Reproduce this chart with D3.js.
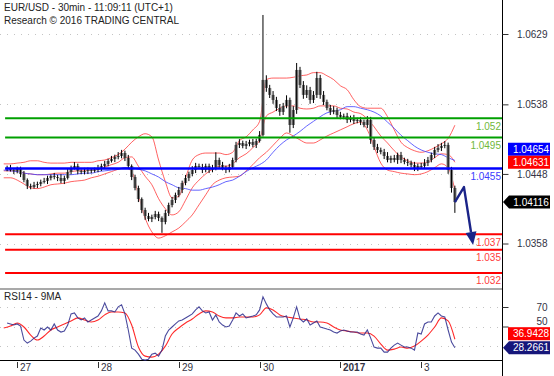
<!DOCTYPE html>
<html>
<head>
<meta charset="utf-8">
<script src="https://cdn.jsdelivr.net/npm/d3@7"></script>
<style>
body { margin: 0; background: #fff; }
svg { display: block; font-family: "Liberation Sans", Arial, sans-serif; }
</style>
</head>
<body>
<svg id="chart" width="554" height="376"></svg>
<script>
// EUR/USD 30min, hourly closes (hours from 27 Dec 00:00)
var firstOpen = 1.04544;
var closes = [
	1.04557, 1.04531, 1.04518, 1.04544, 1.04479, 1.04402, 1.04324, 1.04311, 1.04337, 1.04350,
	1.04376, 1.04389, 1.04427, 1.04453, 1.04440, 1.04427, 1.04389, 1.04427, 1.04505, 1.04557,
	1.04583, 1.04518, 1.04505, 1.04518, 1.04531, 1.04518, 1.04531, 1.04557, 1.04583, 1.04609,
	1.04647, 1.04673, 1.04699, 1.04712, 1.04751, 1.04686, 1.04583, 1.04440, 1.04298, 1.04156,
	1.04013, 1.03936, 1.03897, 1.03923, 1.03962, 1.03910, 1.03858, 1.03975, 1.04078, 1.04143,
	1.04208, 1.04272, 1.04363, 1.04427, 1.04479, 1.04531, 1.04583, 1.04570, 1.04531, 1.04583,
	1.04531, 1.04557, 1.04660, 1.04596, 1.04557, 1.04531, 1.04570, 1.04660, 1.04855, 1.04880,
	1.04842, 1.04867, 1.04893, 1.04855, 1.04906, 1.04984, 1.05696, 1.05592, 1.05502, 1.05437,
	1.05333, 1.05282, 1.05359, 1.05437, 1.05113, 1.05307, 1.05825, 1.05631, 1.05502, 1.05566,
	1.05437, 1.05502, 1.05721, 1.05502, 1.05411, 1.05333, 1.05282, 1.05307, 1.05243, 1.05217,
	1.05230, 1.05178, 1.05204, 1.05165, 1.05178, 1.05152, 1.05113, 1.05178, 1.04919, 1.04829,
	1.04790, 1.04764, 1.04712, 1.04660, 1.04686, 1.04660, 1.04725, 1.04660, 1.04635, 1.04622,
	1.04596, 1.04557, 1.04583, 1.04583, 1.04622, 1.04660, 1.04725, 1.04790, 1.04816, 1.04842,
	1.04855, 1.04531, 1.04298, 1.04116
];
// wicks in pips above / below the body
var wickUp = [
	3,4,2,3,3,4,2,3,4,3, 3,4,3,2,4,3,5,3,4,3, 5,3,2,4,3,2,3,4,3,4, 3,4,3,5,4,3,4,2,3,3,
	2,3,4,3,4,3,2,4,3,4, 3,4,3,4,3,5,4,3,4,3, 3,4,10,3,4,3,4,3,4,5, 3,4,3,4,3,5,84,6,4,5,
	4,5,4,6,3,5,9,4,5,6, 4,5,8,4,5,3,4,5,3,4, 3,4,3,4,3,4,3,5,4,3, 4,3,4,5,3,4,3,4,3,4,
	3,4,3,4,5,4,3,4,5,4, 5,3,4,3
];
var wickDn = [
	3,2,4,3,4,3,4,3,2,4, 3,2,4,3,3,4,3,4,2,3, 2,4,3,3,4,3,2,3,4,3, 3,2,4,3,3,4,3,4,3,4,
	4,5,3,4,3,4,14,3,4,3, 4,3,4,3,4,3,4,3,4,3, 4,3,3,4,3,4,3,2,3,4, 3,4,3,3,4,2,2,5,4,5,
	4,5,4,3,10,4,5,4,5,4, 5,4,4,5,4,3,4,3,4,3, 3,4,3,4,3,4,3,4,5,4, 4,3,4,3,4,3,5,4,3,4,
	3,4,4,3,3,4,3,4,3,4, 3,5,6,14
];

// Bollinger bands and moving average, every 2 hours
var bandUpper = [
	1.0461, 1.0461, 1.0462, 1.0463, 1.0465, 1.0465, 1.0463, 1.0462, 1.0462, 1.0462,
	1.0463, 1.0463, 1.0463, 1.0463, 1.0465, 1.0466, 1.0469, 1.0473, 1.0480, 1.0489,
	1.0496, 1.0500, 1.0496, 1.0466, 1.0438, 1.0417, 1.0419, 1.0443, 1.0466, 1.0473,
	1.0475, 1.0475, 1.0475, 1.0473, 1.0476, 1.0491, 1.0496, 1.0505, 1.0516, 1.0570,
	1.0572, 1.0572, 1.0572, 1.0573, 1.0575, 1.0576, 1.0579, 1.0579, 1.0575, 1.0570,
	1.0562, 1.0557, 1.0544, 1.0535, 1.0533, 1.0533, 1.0533, 1.0522, 1.0505, 1.0489,
	1.0482, 1.0478, 1.0476, 1.0478, 1.0482, 1.0487, 1.0494, 1.0511
];
var bandMiddle = [
	1.0452, 1.0452, 1.0452, 1.0449, 1.0448, 1.0447, 1.0447, 1.0448, 1.0449, 1.0449,
	1.0451, 1.0452, 1.0452, 1.0453, 1.0454, 1.0457, 1.0460, 1.0463, 1.0469, 1.0470,
	1.0458, 1.0445, 1.0434, 1.0416, 1.0403, 1.0395, 1.0399, 1.0414, 1.0430, 1.0440,
	1.0448, 1.0454, 1.0458, 1.0458, 1.0461, 1.0469, 1.0474, 1.0482, 1.0492, 1.0523,
	1.0528, 1.0533, 1.0536, 1.0536, 1.0533, 1.0532, 1.0533, 1.0536, 1.0536, 1.0536,
	1.0533, 1.0532, 1.0528, 1.0526, 1.0519, 1.0509, 1.0497, 1.0488, 1.0478, 1.0470,
	1.0465, 1.0462, 1.0462, 1.0463, 1.0469, 1.0474, 1.0473, 1.04631
];
var bandLower = [
	1.0443, 1.0443, 1.0440, 1.0435, 1.0430, 1.0429, 1.0431, 1.0434, 1.0435, 1.0436,
	1.0438, 1.0439, 1.0440, 1.0443, 1.0445, 1.0448, 1.0451, 1.0454, 1.0456, 1.0451,
	1.0421, 1.0391, 1.0373, 1.0365, 1.0368, 1.0373, 1.0378, 1.0386, 1.0395, 1.0408,
	1.0421, 1.0434, 1.0440, 1.0443, 1.0444, 1.0445, 1.0452, 1.0460, 1.0469, 1.0476,
	1.0485, 1.0494, 1.0501, 1.0497, 1.0492, 1.0488, 1.0488, 1.0492, 1.0497, 1.0501,
	1.0505, 1.0509, 1.0513, 1.0515, 1.0505, 1.0483, 1.0462, 1.0453, 1.0451, 1.0449,
	1.0448, 1.0447, 1.0448, 1.0451, 1.0456, 1.0461, 1.0456, 1.0427
];
var maBlue = [
	1.0453, 1.0452, 1.0451, 1.0449, 1.0448, 1.0447, 1.0447, 1.0447, 1.0447, 1.0447,
	1.0447, 1.0448, 1.0449, 1.0449, 1.0451, 1.0452, 1.0453, 1.0454, 1.0456, 1.0456,
	1.0454, 1.0452, 1.0448, 1.0444, 1.0438, 1.0434, 1.0430, 1.0429, 1.0427, 1.0427,
	1.0429, 1.0431, 1.0434, 1.0438, 1.0440, 1.0445, 1.0451, 1.0456, 1.0460, 1.0466,
	1.0476, 1.0485, 1.0492, 1.0497, 1.0503, 1.0510, 1.0516, 1.0522, 1.0527, 1.0529,
	1.0531, 1.0535, 1.0535, 1.0533, 1.0531, 1.0528, 1.0523, 1.0515, 1.0507, 1.0498,
	1.0491, 1.0484, 1.0479, 1.0476, 1.0474, 1.0473, 1.0469, 1.04654
];

// RSI14 (hourly) and its 9MA (every 2 hours)
var rsi = [
	53.6, 52.6, 51.5, 52.6, 50.5, 36.1, 33.0, 35.0, 38.1, 40.2,
	48.5, 46.4, 49.5, 46.4, 52.6, 46.4, 44.3, 45.3, 51.5, 62.9,
	63.9, 58.8, 56.7, 58.8, 54.6, 56.7, 58.8, 60.8, 66.0, 74.2,
	66.0, 66.0, 64.9, 70.1, 72.2, 62.9, 46.4, 27.8, 25.8, 21.6,
	16.5, 15.5, 16.5, 21.6, 22.7, 19.6, 25.8, 40.2, 46.4, 49.5,
	52.6, 55.7, 56.7, 58.8, 60.8, 62.9, 67.0, 70.1, 66.0, 63.9,
	64.9, 56.7, 61.9, 54.6, 51.5, 49.5, 50.5, 56.7, 63.9, 60.8,
	62.9, 58.8, 59.8, 60.8, 61.9, 67.0, 80.4, 73.2, 67.0, 62.9,
	59.8, 59.8, 59.8, 60.8, 49.5, 58.8, 70.1, 57.7, 54.6, 57.7,
	51.5, 53.6, 55.7, 49.5, 48.5, 47.4, 46.4, 44.3, 43.3, 45.3,
	46.4, 45.3, 44.3, 44.3, 44.3, 42.3, 41.2, 46.4, 38.1, 28.9,
	27.8, 27.8, 23.7, 23.7, 27.8, 30.9, 33.0, 30.9, 28.9, 28.9,
	27.8, 25.8, 43.3, 42.3, 52.6, 54.6, 54.6, 60.8, 63.9, 60.8,
	59.8, 46.4, 34.0, 28.2661
];
var rsiMA = [
	48.5, 50.5, 53.6, 49.5, 41.2, 36.1, 40.2, 46.4, 49.5, 52.6,
	55.7, 58.8, 56.7, 54.6, 56.7, 61.9, 64.9, 64.9, 63.9, 51.5,
	28.9, 19.6, 18.6, 21.6, 29.9, 42.3, 48.5, 53.6, 57.7, 62.9,
	66.0, 64.9, 60.8, 58.8, 58.8, 59.8, 59.8, 59.8, 61.9, 69.1,
	67.0, 61.9, 59.8, 58.8, 57.7, 56.7, 54.6, 54.6, 53.6, 49.5,
	46.4, 45.3, 44.3, 43.3, 43.3, 40.2, 32.0, 25.8, 26.8, 28.9,
	27.8, 29.9, 35.0, 41.2, 49.5, 58.8, 55.7, 36.9428
];

var barHours = d3.range(-3, 131);
var bandHours = d3.range(-4, 131, 2);

var priceTicks = [1.0629, 1.0538, 1.0448, 1.0358];
var rsiTicks = [70, 50];
var rsiGrid = [70, 50, 30];
var dayTicks = [0, 24, 48, 72, 96, 120];
var dayLabels = ["27", "28", "29", "30", "2017", "3"];

var levelValues = [1.052, 1.0495, 1.0455, 1.037, 1.035, 1.032];
var levelLabels = ["1.052", "1.0495", "1.0455", "1.037", "1.035", "1.032"];
var levelKinds = ["res", "res", "pivot", "sup", "sup", "sup"];

// forecast arrow (hour, price)
var arrowHours = [130, 132.7, 135.4];
var arrowPrices = [1.04116, 1.0431, 1.0356];

var pip = 0.0001;
var plotRight = 502;

var svg = d3.select("#chart");
var x = d3.scaleLinear().domain([0, 120]).range([17.2, 421.2]);
var y = d3.scaleLinear().domain([1.0629, 1.0358]).range([34, 243.5]);
var yr = d3.scaleLinear().domain([70, 30]).range([307, 346]);

drawFrame();
drawPricePanel();
drawRsiPanel();
drawLabels();

function drawFrame() {
	svg.append("rect").attr("width", 554).attr("height", 376).attr("fill", "#fff");

	// dotted grid
	svg.selectAll("line.pgrid").data(priceTicks).enter().append("line")
		.attr("x1", 0).attr("x2", plotRight - 4)
		.attr("y1", function(d) { return Math.round(y(d)) + 0.5; })
		.attr("y2", function(d) { return Math.round(y(d)) + 0.5; })
		.attr("stroke", "#c4c4c4").attr("stroke-dasharray", "1,6");
	svg.selectAll("line.rgrid").data(rsiGrid).enter().append("line")
		.attr("x1", 0).attr("x2", plotRight - 4)
		.attr("y1", function(d) { return Math.round(yr(d)) + 0.5; })
		.attr("y2", function(d) { return Math.round(yr(d)) + 0.5; })
		.attr("stroke", "#c4c4c4").attr("stroke-dasharray", "1,6");

	// panel separator, time axis, value axis
	svg.append("line").attr("x1", 0).attr("x2", plotRight).attr("y1", 289).attr("y2", 289)
		.attr("stroke", "#8c8c8c").attr("stroke-width", 1.5);
	svg.append("line").attr("x1", 0).attr("x2", plotRight).attr("y1", 360.5).attr("y2", 360.5)
		.attr("stroke", "#000");
	svg.append("line").attr("x1", plotRight + 0.5).attr("x2", plotRight + 0.5).attr("y1", 0).attr("y2", 376)
		.attr("stroke", "#000");

	var pAxis = svg.append("g").attr("transform", "translate(" + (plotRight + 0.5) + ",0)")
		.call(d3.axisRight(y).tickValues(priceTicks).tickSize(6).tickFormat(d3.format(".4f")));
	var rAxis = svg.append("g").attr("transform", "translate(" + (plotRight + 0.5) + ",0)")
		.call(d3.axisRight(yr).tickValues(rsiTicks).tickSize(6).tickFormat(d3.format("d")));
	[pAxis, rAxis].forEach(function(a) {
		a.select(".domain").remove();
		a.selectAll(".tick line").attr("stroke", "#333");
		a.selectAll(".tick text").attr("x", 45).attr("text-anchor", "end")
			.attr("fill", "#333344").style("font-size", "10px")
			.style("font-family", "'Liberation Sans', Arial, sans-serif");
	});
	// "50" sits partly under the RSI value box, nudge it up like the original
	rAxis.selectAll(".tick text").attr("dy", function(d) { return d == 50 ? "-0.2em" : "0.32em"; });

	// day ticks
	var days = svg.selectAll("g.day").data(dayTicks).enter().append("g")
		.attr("transform", function(d) { return "translate(" + (Math.round(x(d)) + 0.5) + ",0)"; });
	days.append("line").attr("y1", 362).attr("y2", 368).attr("stroke", "#333");
	days.append("text").attr("x", 2.5).attr("y", 371)
		.attr("font-size", 10).attr("fill", "#333344")
		.attr("font-weight", function(d, i) { return dayLabels[i] == "2017" ? "bold" : "normal"; })
		.text(function(d, i) { return dayLabels[i]; });
}

function drawPricePanel() {
	var g = svg.append("g");

	var bars = closes.map(function(c, i) {
		var o = i ? closes[i - 1] : firstOpen;
		return {
			h: barHours[i], o: o, c: c,
			hi: Math.max(o, c) + wickUp[i] * pip,
			lo: Math.min(o, c) - wickDn[i] * pip
		};
	});

	var bandLine = function(vals) {
		return d3.line()
			.x(function(d, i) { return x(bandHours[i]); })
			.y(function(d) { return y(d); })
			.curve(d3.curveMonotoneX)(vals);
	};

	// bands behind candles
	[bandUpper, bandLower, bandMiddle].forEach(function(vals) {
		g.append("path").attr("d", bandLine(vals)).attr("fill", "none")
			.attr("stroke", "#ff2020").attr("stroke-opacity", 0.7).attr("stroke-width", 1);
	});
	g.append("path").attr("d", bandLine(maBlue)).attr("fill", "none")
		.attr("stroke", "#4a4aff").attr("stroke-opacity", 0.85).attr("stroke-width", 1);

	g.selectAll("rect.body").data(bars).enter().append("rect")
		.attr("x", function(d) { return x(d.h) - 1.6; })
		.attr("width", 3.2)
		.attr("y", function(d) { return y(Math.max(d.o, d.c)); })
		.attr("height", function(d) { return Math.max(1, Math.abs(y(d.o) - y(d.c))); })
		.attr("fill", "#7d7d7d");
	g.selectAll("line.wick").data(bars).enter().append("line")
		.attr("x1", function(d) { return x(d.h); })
		.attr("x2", function(d) { return x(d.h); })
		.attr("y1", function(d) { return y(d.hi); })
		.attr("y2", function(d) { return y(d.lo); })
		.attr("stroke", "#000").attr("stroke-width", 1);

	// support / resistance
	var levelColor = { res: "#00a000", pivot: "#0000ff", sup: "#ff0000" };
	var textColor = { res: "#70b83c", pivot: "#3c3cff", sup: "#ff3c3c" };
	var x0 = x(barHours[0]) - 2;
	levelValues.forEach(function(v, i) {
		g.append("line").attr("x1", x0).attr("x2", plotRight)
			.attr("y1", y(v)).attr("y2", y(v))
			.attr("stroke", levelColor[levelKinds[i]])
			.attr("stroke-width", levelKinds[i] == "pivot" ? 2.5 : 2);
		g.append("text").attr("x", plotRight - 1).attr("y", y(v) + 11.5)
			.attr("text-anchor", "end").attr("font-size", 10)
			.attr("fill", textColor[levelKinds[i]])
			.text(levelLabels[i]);
	});

	// forecast arrow
	var pts = arrowHours.map(function(h, i) { return [x(h), y(arrowPrices[i])]; });
	var n = pts.length;
	var tip = pts[n - 1], prev = pts[n - 2];
	var ang = Math.atan2(tip[1] - prev[1], tip[0] - prev[0]);
	var len = 13, half = 5.5;
	var bx = tip[0] - len * Math.cos(ang), by = tip[1] - len * Math.sin(ang);
	var shaft = pts.slice(0, n - 1).concat([[bx, by]]);
	g.append("path").attr("d", d3.line()(shaft)).attr("fill", "none")
		.attr("stroke", "#1a2388").attr("stroke-width", 2.4).attr("stroke-linejoin", "round");
	g.append("polygon")
		.attr("points", [
			tip,
			[bx + half * Math.sin(ang), by - half * Math.cos(ang)],
			[bx - half * Math.sin(ang), by + half * Math.cos(ang)]
		].map(function(p) { return p.join(","); }).join(" "))
		.attr("fill", "#1a2388");
}

function drawRsiPanel() {
	var g = svg.append("g");
	g.append("path")
		.attr("d", d3.line()
			.x(function(d, i) { return x(bandHours[i]); })
			.y(function(d) { return yr(d); })
			.curve(d3.curveMonotoneX)(rsiMA))
		.attr("fill", "none").attr("stroke", "#ff2a2a").attr("stroke-width", 1.1);
	g.append("path")
		.attr("d", d3.line()
			.x(function(d, i) { return x(barHours[i]); })
			.y(function(d) { return yr(d); })(rsi))
		.attr("fill", "none").attr("stroke", "#2a2a8c").attr("stroke-width", 1.1)
		.attr("stroke-opacity", 0.85);
}

function valueBox(yc, label, fill, pointer) {
	var top = yc - 6.5, bottom = yc + 6.5;
	if (pointer) {
		svg.append("polygon")
			.attr("points", [[503, yc], [509, top], [550, top], [550, bottom], [509, bottom]]
				.map(function(p) { return p.join(","); }).join(" "))
			.attr("fill", fill);
	} else {
		svg.append("rect").attr("x", 508).attr("y", top).attr("width", 42).attr("height", 13)
			.attr("fill", fill);
	}
	svg.append("text").attr("x", 531).attr("y", yc + 3.6)
		.attr("text-anchor", "middle").attr("font-size", 10).attr("fill", "#fff")
		.text(label);
}

function drawLabels() {
	svg.append("text").attr("x", 4).attr("y", 11).attr("font-size", 10).attr("fill", "#222")
		.text("EUR/USD - 30min - 11:09:11 (UTC+1)");
	svg.append("text").attr("x", 4).attr("y", 23.5).attr("font-size", 10).attr("fill", "#222")
		.text("Research \u00a9 2016 TRADING CENTRAL");
	svg.append("text").attr("x", 4).attr("y", 300).attr("font-size", 10).attr("fill", "#222")
		.text("RSI14 - 9MA");

	var fmt5 = d3.format(".5f"), fmt4 = d3.format(".4f");
	var lastMid = bandMiddle[bandMiddle.length - 1];
	var lastBlue = maBlue[maBlue.length - 1];
	var lastClose = closes[closes.length - 1];
	var midY = y(lastMid);
	valueBox(midY - 13, fmt5(lastBlue), "#0000ff", false);
	valueBox(midY, fmt5(lastMid), "#ff0000", false);
	valueBox(y(lastClose), fmt5(lastClose), "#000", true);

	var rsiY = yr(rsi[rsi.length - 1]);
	valueBox(rsiY - 14, fmt4(rsiMA[rsiMA.length - 1]), "#ff0000", false);
	valueBox(rsiY, fmt4(rsi[rsi.length - 1]), "#16167a", true);
}
</script>
</body>
</html>
